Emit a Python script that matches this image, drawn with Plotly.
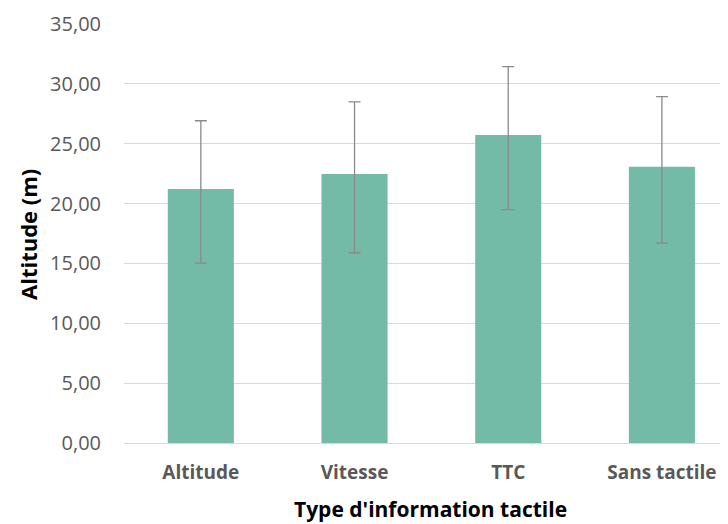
import plotly.graph_objects as go

categories = ["Altitude", "Vitesse", "TTC", "Sans tactile"]
means = [21.22, 22.47, 25.72, 23.08]
err_plus = [5.70, 6.03, 5.72, 5.86]
err_minus = [6.19, 6.58, 6.22, 6.39]
y_ticks = [0, 5, 10, 15, 20, 25, 30, 35]
y_tick_labels = ["0,00", "5,00", "10,00", "15,00", "20,00", "25,00", "30,00", "35,00"]

FONT = "Open Sans"

fig = go.Figure(
    go.Bar(
        x=list(range(len(categories))),
        y=means,
        width=0.43,
        marker=dict(color="#74BBA7", line=dict(width=0)),
        error_y=dict(
            type="data",
            symmetric=False,
            array=err_plus,
            arrayminus=err_minus,
            color="#8a8a8a",
            thickness=1.3,
            width=6,
        ),
    )
)

# page body has an 8px default margin, so the figure is sized/offset accordingly
fig.update_layout(
    width=720,
    height=516,
    margin=dict(l=116, r=0, t=16, b=81, autoexpand=False),
    plot_bgcolor="white",
    paper_bgcolor="white",
    showlegend=False,
    font=dict(family=FONT, color="#595959"),
    xaxis=dict(
        tickmode="array",
        tickvals=list(range(len(categories))),
        ticktext=[f"<b>{c}</b>" for c in categories],
        range=[-0.5, 3.43],
        showgrid=False,
        showline=False,
        zeroline=False,
        automargin=False,
        tickfont=dict(size=19, color="#595959", family=FONT),
        ticks="outside",
        ticklen=12,
        tickcolor="rgba(0,0,0,0)",
    ),
    yaxis=dict(
        range=[0, 35],
        tickmode="array",
        tickvals=y_ticks,
        ticktext=y_tick_labels,
        showgrid=True,
        gridcolor="#d9d9d9",
        gridwidth=1.3,
        zeroline=True,
        zerolinecolor="#d9d9d9",
        zerolinewidth=1.3,
        showline=False,
        automargin=False,
        tickfont=dict(size=20, color="#595959", family=FONT),
        ticklabelstandoff=22,
    ),
    annotations=[
        dict(
            text="<b>Type d'information tactile</b>",
            xref="paper", yref="paper",
            x=(430 - 124) / 604, y=-(509 - 443) / 419,
            xanchor="center", yanchor="middle",
            showarrow=False,
            font=dict(size=21, color="black", family=FONT),
        ),
        dict(
            text="<b>Altitude (m)</b>",
            xref="paper", yref="paper",
            x=-(124 - 28) / 604, y=(443 - 235) / 419,
            xanchor="center", yanchor="middle",
            textangle=-90,
            showarrow=False,
            font=dict(size=22, color="black", family=FONT),
        ),
    ],
)

fig.write_html("out.html")
